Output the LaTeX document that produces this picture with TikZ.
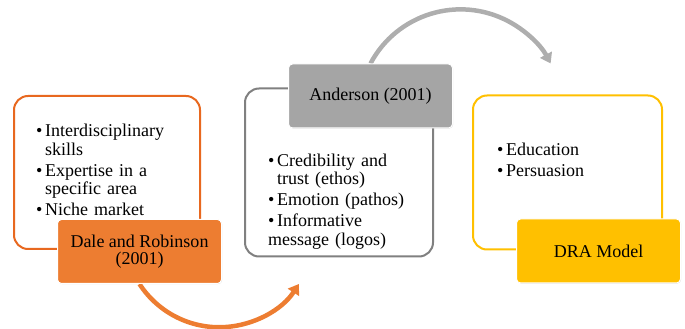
\documentclass[tikz,border=0pt]{standalone}
\usepackage{fontspec}
\setmainfont{Liberation Serif}
\usetikzlibrary{arrows.meta, positioning, backgrounds, shadows}

\definecolor{drorange}{HTML}{ED7D31}
\definecolor{drorangeline}{HTML}{E8681F}
\definecolor{andgray}{HTML}{A5A5A5}
\definecolor{andgrayline}{HTML}{808080}
\definecolor{dragold}{HTML}{FFC000}

% bullet item with hanging indent
\newcommand{\bitem}[1]{\par\hangindent=9pt\hangafter=1\noindent\makebox[9pt][l]{\textbullet}#1}

\begin{document}
\begin{tikzpicture}[x=1pt, y=1pt,
    frame/.style  = {rectangle, draw, line width=2pt, rounded corners=14pt,
                     fill=white, inner sep=0pt},
    tag/.style    = {rectangle, draw=white, line width=1pt, rounded corners=4pt,
                     align=center, minimum width=164pt, minimum height=64pt,
                     font=\fontsize{18}{17}\selectfont,
                     drop shadow={opacity=0.3, shadow xshift=0.6pt, shadow yshift=-0.6pt}},
    points/.style = {anchor=north west, inner sep=0pt, text width=175pt, align=left,
                     font=\fontsize{18}{18.5}\selectfont,
                     execute at begin node={\setlength{\parskip}{2.5pt}}},
    flow/.style   = {line width=4.5pt, -{Triangle[width=13pt, length=10pt]}}
]
\useasboundingbox (0,0) rectangle (685,329);

% =====================
% Frames (left to right)
% =====================

\node[frame, draw=drorangeline, minimum width=186pt, minimum height=153pt] (frame1) at (107,156.5) {};
\node[frame, draw=andgrayline, minimum width=188pt, minimum height=168pt, right=43pt of frame1] (frame2) {};
\node[frame, draw=dragold, minimum width=189pt, minimum height=154pt, right=38pt of frame2] (frame3) {};

% Bullet points
\node[points] (pts1) at ([shift={(23,-20.7)}]frame1.north west)
    {\bitem{Interdisciplinary\newline skills}\bitem{Expertise in a\newline specific area}\bitem{Niche market}};
\node[points] (pts2) at ([shift={(24,-57.7)}]frame2.north west)
    {\bitem{Credibility and\newline trust (ethos)}\bitem{Emotion (pathos)}\bitem{Informative\newline message (logos)}};
\node[points] (pts3) at ([shift={(25,-39.7)}]frame3.north west)
    {\bitem{Education}\bitem{Persuasion}};

% Tags
\node[tag, fill=drorange, anchor=north east] (dale) at ([shift={(21,31)}]frame1.south east) {Dale and Robinson\\(2001)};
\node[tag, fill=andgray, anchor=north east] (anderson) at ([shift={(19,24)}]frame2.north east) {Anderson (2001)};
\node[tag, fill=dragold, anchor=north east] (dra) at ([shift={(18,32)}]frame3.south east) {DRA Model};

% ====================================
% Curved arrows (behind the tags)
% ====================================
\begin{scope}[on background layer]
\draw[flow, drorange] (dale.south) arc[start angle=213, end angle=327, radius=95];
\draw[flow, andgray!90] (anderson.north) arc[start angle=152, end angle=28, radius=102];
\end{scope}

\end{tikzpicture}
\end{document}
